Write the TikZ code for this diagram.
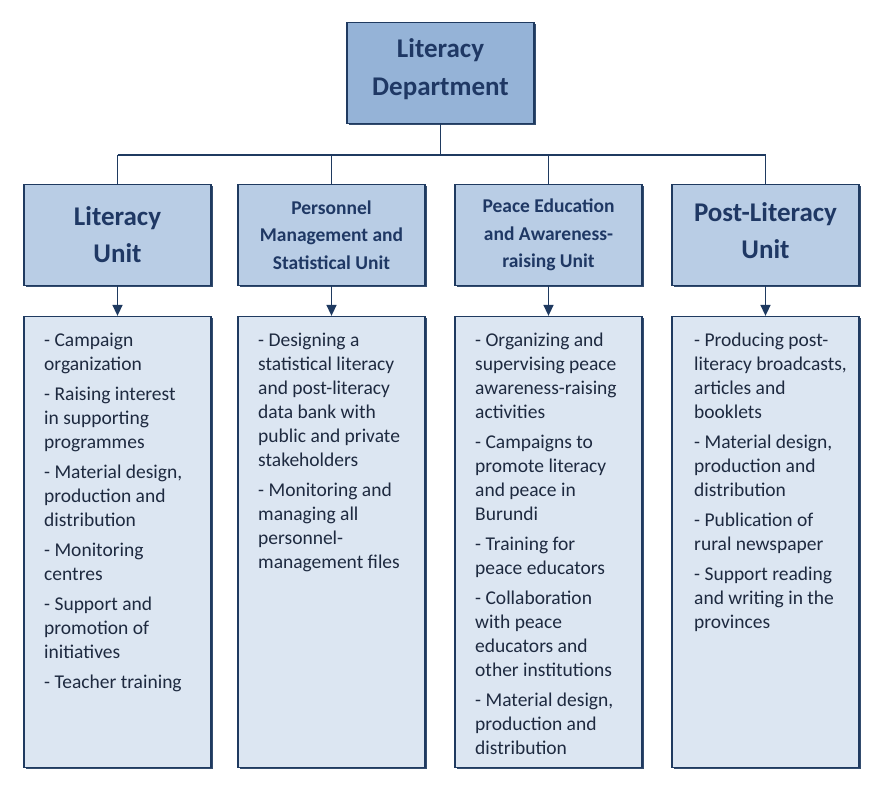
\documentclass[tikz,border=0pt]{standalone}
\usepackage{fontspec}
\setmainfont{Carlito}
\usetikzlibrary{arrows.meta,shadows}
\definecolor{navy}{HTML}{1F3A60}
\definecolor{hdtext}{HTML}{1F3864}
\definecolor{bodytext}{HTML}{1E2A40}
\definecolor{topfill}{HTML}{95B3D7}
\definecolor{unitfill}{HTML}{B9CDE5}
\definecolor{detfill}{HTML}{DCE6F2}
\tikzset{
  boxbase/.style={draw=navy, line width=1.3pt, inner sep=0pt,
    drop shadow={shadow xshift=1.6pt, shadow yshift=-1.6pt, fill=navy, opacity=0.9}},
  deptbox/.style={boxbase, fill=topfill, minimum width=187pt, minimum height=101pt,
    align=center, text=hdtext, font=\fontsize{27}{38}\selectfont\bfseries},
  unitbig/.style={boxbase, fill=unitfill, minimum width=187pt, minimum height=101pt,
    align=center, text=hdtext, font=\fontsize{27}{37}\selectfont\bfseries},
  unitsmall/.style={boxbase, fill=unitfill, minimum width=187pt, minimum height=101pt,
    align=center, text=hdtext, font=\fontsize{19.5}{27.5}\selectfont\bfseries},
  detbox/.style={boxbase, fill=detfill, minimum width=187pt, minimum height=451pt},
  dettext/.style={anchor=north west, inner sep=0pt, align=left, text=bodytext,
    font=\fontsize{19.5}{24}\selectfont},
  conn/.style={draw=navy, line width=1.6pt},
  arr/.style={conn, -{Triangle[width=10pt,length=11pt]}},
}
\begin{document}
\begin{tikzpicture}[x=1pt,y=-1pt]
\useasboundingbox[fill=white] (0,0) rectangle (886,797);

\node[deptbox] (dept) at (440.5,73) {Literacy\\Department\rule[-12pt]{0pt}{0pt}};

\node[unitbig]   (u1) at (117.5,235) {Literacy\\Unit};
\node[unitsmall] (u2) at (331.5,235) {Personnel\\Management and\\Statistical Unit};
\node[unitsmall] (u3) at (548.5,235) {Peace Education\\and Awareness-\\raising Unit};
\node[unitbig]   (u4) at (765.5,235) {Post-Literacy\\Unit\rule[-9pt]{0pt}{0pt}};

\node[detbox] (d1) at (117.5,542) {};
\node[detbox] (d2) at (331.5,542) {};
\node[detbox] (d3) at (548.5,542) {};
\node[detbox] (d4) at (765.5,542) {};

\coordinate (bus) at (440.5,155);
\draw[conn] (dept.south) -- (dept.south |- bus);
\draw[conn] (u1.north |- bus) -- (u4.north |- bus);
\draw[conn] (u1.north |- bus) -- (u1.north);
\draw[conn] (u2.north |- bus) -- (u2.north);
\draw[conn] (u3.north |- bus) -- (u3.north);
\draw[conn] (u4.north |- bus) -- (u4.north);

\draw[arr] (u1.south) -- (d1.north);
\draw[arr] (u2.south) -- (d2.north);
\draw[arr] (u3.south) -- (d3.north);
\draw[arr] (u4.south) -- (d4.north);

\node[dettext] (t1) at (44,333) {- Campaign\\organization\\[6pt]
- Raising interest\\in supporting\\programmes\\[6pt]
- Material design,\\production and\\distribution\\[6pt]
- Monitoring\\centres\\[6pt]
- Support and\\promotion of\\initiatives\\[6pt]
- Teacher training};

\node[dettext] (t2) at (258,333) {- Designing a\\statistical literacy\\and post-literacy\\data bank with\\public and private\\stakeholders\\[6pt]
- Monitoring and\\managing all\\personnel-\\management files};

\node[dettext] (t3) at (475,333) {- Organizing and\\supervising peace\\awareness-raising\\activities\\[6pt]
- Campaigns to\\promote literacy\\and peace in\\Burundi\\[6pt]
- Training for\\peace educators\\[6pt]
- Collaboration\\with peace\\educators and\\other institutions\\[6pt]
- Material design,\\production and\\distribution};

\node[dettext] (t4) at (694,333) {- Producing post-\\literacy broadcasts,\\articles and\\booklets\\[6pt]
- Material design,\\production and\\distribution\\[6pt]
- Publication of\\rural newspaper\\[6pt]
- Support reading\\and writing in the\\provinces};
\end{tikzpicture}
\end{document}
